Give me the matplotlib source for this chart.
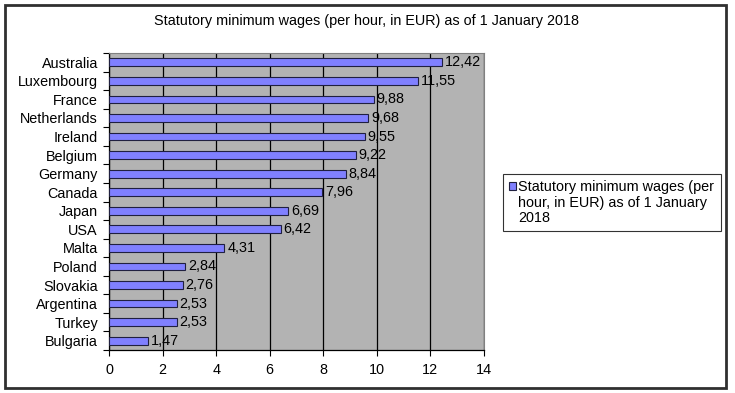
import matplotlib
matplotlib.use("Agg")
import matplotlib.pyplot as plt
from matplotlib.patches import Rectangle
import numpy as np

plt.rcParams['font.family'] = ['Liberation Sans', 'DejaVu Sans']

countries = ["Australia", "Luxembourg", "France", "Netherlands", "Ireland", "Belgium",
             "Germany", "Canada", "Japan", "USA", "Malta", "Poland", "Slovakia",
             "Argentina", "Turkey", "Bulgaria"]
values = [12.42, 11.55, 9.88, 9.68, 9.55, 9.22, 8.84, 7.96, 6.69, 6.42, 4.31,
          2.84, 2.76, 2.53, 2.53, 1.47]
xticks = [0, 2, 4, 6, 8, 10, 12, 14]
title = "Statutory minimum wages (per hour, in EUR) as of 1 January 2018"
legend_lines = ["Statutory minimum wages (per", "hour, in EUR) as of 1 January", "2018"]

FS = 10.4
W, H = 735, 393
fig = plt.figure(figsize=(W / 100, H / 100), dpi=100)
ax = fig.add_axes([109 / W, 1 - 350 / H, (484 - 109) / W, (350 - 53) / H])
ax.set_facecolor('#B3B3B3')

n = len(countries)
y = np.arange(n)[::-1]
bars = ax.barh(y, values, height=0.42, color='#8080FF', edgecolor='#202040',
               linewidth=0.8, zorder=3)
for yi, v in zip(y, values):
    ax.annotate(f"{v:.2f}".replace('.', ','), (v, yi), xytext=(2, 0),
                textcoords='offset points', va='center', ha='left', fontsize=FS,
                zorder=4)

ax.set_xlim(0, 14)
ax.set_ylim(-0.5, n - 0.5)
ax.set_xticks(xticks)
ax.set_xticklabels([str(t) for t in xticks], fontsize=FS)
ax.set_yticks(y)
ax.set_yticklabels(countries, fontsize=FS)
ax.set_yticks(np.arange(n + 1) - 0.5, minor=True)
ax.tick_params(axis='y', which='major', length=0, pad=8)
ax.tick_params(axis='y', which='minor', length=4, width=0.8, direction='out')
ax.tick_params(axis='x', which='major', length=4, width=0.8, direction='out', pad=5)
ax.xaxis.grid(True, color='black', linewidth=0.9, zorder=1)
ax.set_axisbelow(True)
for s in ['top', 'right']:
    ax.spines[s].set_color('#808080')
    ax.spines[s].set_linewidth(0.8)
for s in ['left', 'bottom']:
    ax.spines[s].set_color('black')
    ax.spines[s].set_linewidth(0.9)

fig.text(367 / W, 1 - 21 / H, title, ha='center', va='center', fontsize=FS)

blank1 = Rectangle((0, 0), 1, 1, fill=False, edgecolor='none')
blank2 = Rectangle((0, 0), 1, 1, fill=False, edgecolor='none')
leg = fig.legend(handles=[bars, blank1, blank2], labels=legend_lines, loc='center left',
                 bbox_to_anchor=(503 / W, 1 - 202.5 / H), borderaxespad=0, fontsize=FS,
                 frameon=True, fancybox=False, handlelength=0.5, handleheight=0.5,
                 handletextpad=0.15, borderpad=0.42, labelspacing=0.08)
leg.get_frame().set_edgecolor('black')
leg.get_frame().set_linewidth(0.8)

fig.patches.append(Rectangle((5 / W, 1 - 388 / H), (726 - 5) / W, (388 - 5) / H,
                             transform=fig.transFigure, fill=False,
                             edgecolor='#303030', linewidth=2))

fig.savefig('out.png', dpi=100)
